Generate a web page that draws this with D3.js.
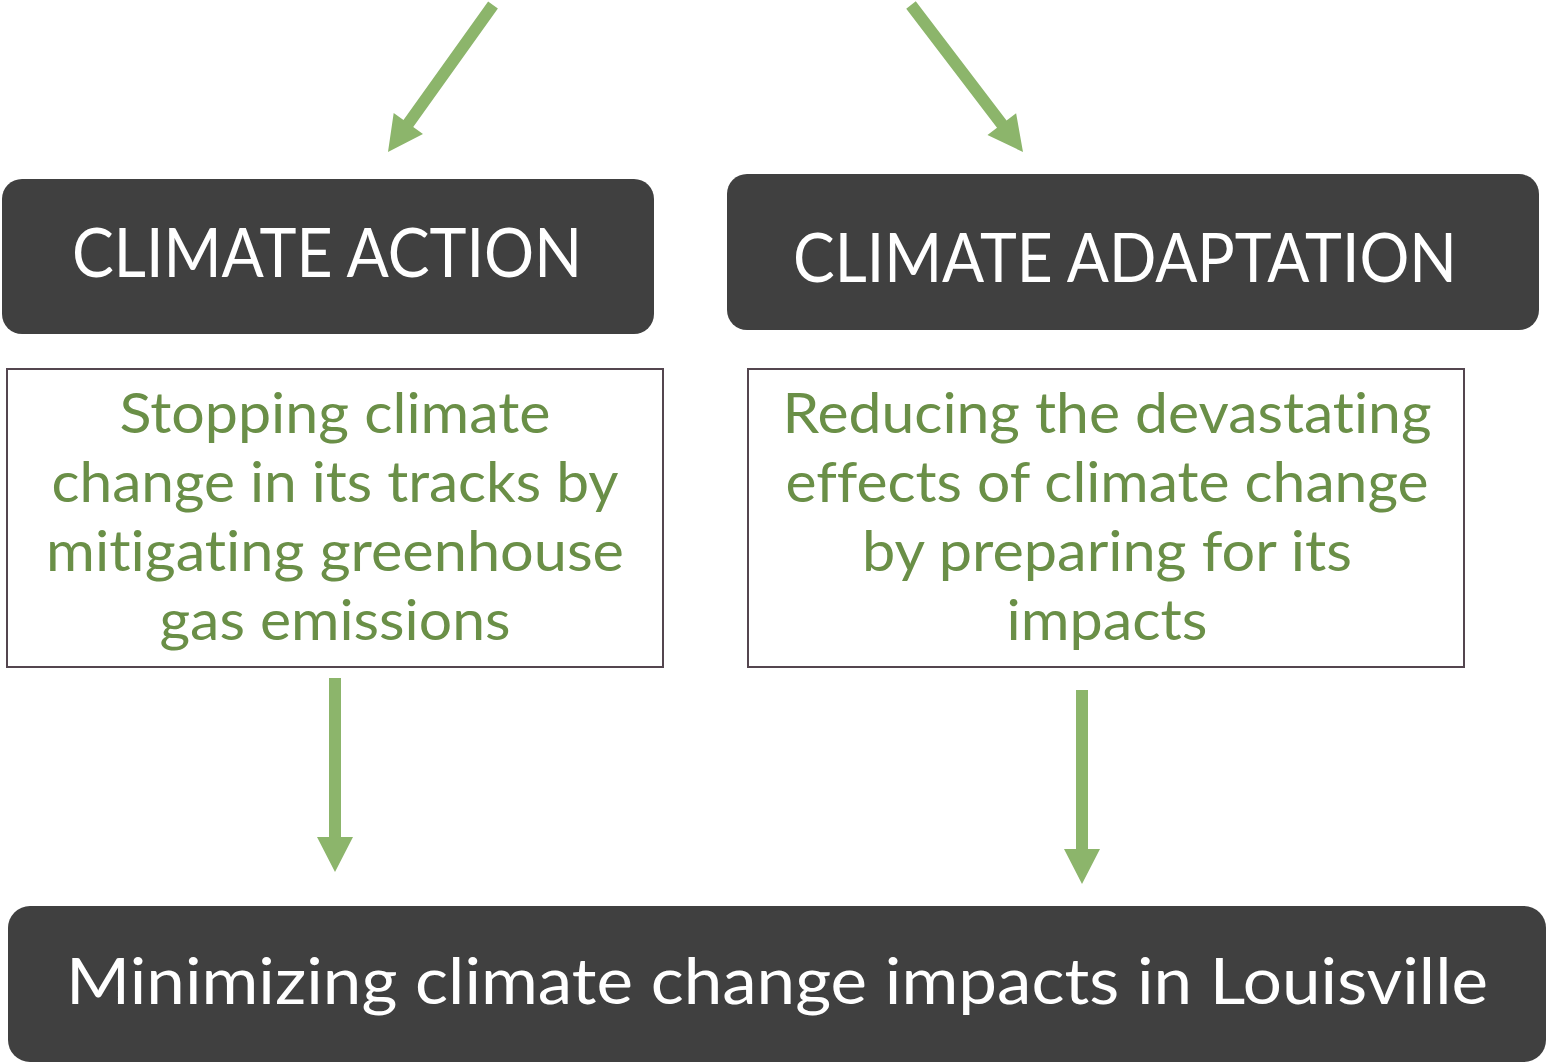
<!DOCTYPE html>
<html>
<head>
<meta charset="utf-8">
<script src="https://cdn.jsdelivr.net/npm/d3@7"></script>
<style>
  html, body { margin: 0; padding: 0; background: #fff; }
  svg { display: block; }
  text { font-variant-ligatures: none; font-feature-settings: "liga" 0, "clig" 0; }
</style>
</head>
<body>
<script>
// ---- content ----
const headings = ["CLIMATE ACTION", "CLIMATE ADAPTATION"];
const descLeft = ["Stopping climate", "change in its tracks by", "mitigating greenhouse", "gas emissions"];
const descRight = ["Reducing the devastating", "effects of climate change", "by preparing for its", "impacts"];
const outcome = ["Minimizing climate change impacts in Louisville"];

// ---- layout (not data) ----
const W = 1547, H = 1064;
const darkFill = "#404040", arrowFill = "#8cb56b", greenText = "#6a8f47", boxStroke = "#54464f";
const font = "Lato, 'Open Sans', 'DejaVu Sans', sans-serif";

const svg = d3.select("body").append("svg").attr("width", W).attr("height", H);

// arrows
const arrowDefs = [
  {x1: 493, y1: 5, x2: 388, y2: 152},
  {x1: 911, y1: 5, x2: 1023, y2: 152},
  {x1: 335, y1: 678, x2: 335, y2: 872},
  {x1: 1082, y1: 690, x2: 1082, y2: 884}
];
function arrowPath(a) {
  const sw = 12, hw = 36, hl = 35;
  const dx = a.x2 - a.x1, dy = a.y2 - a.y1, L = Math.hypot(dx, dy);
  const ux = dx / L, uy = dy / L, px = -uy, py = ux;
  const bx = a.x2 - ux * hl, by = a.y2 - uy * hl;
  const pts = [
    [a.x1 + px * sw / 2, a.y1 + py * sw / 2],
    [bx + px * sw / 2, by + py * sw / 2],
    [bx + px * hw / 2, by + py * hw / 2],
    [a.x2, a.y2],
    [bx - px * hw / 2, by - py * hw / 2],
    [bx - px * sw / 2, by - py * sw / 2],
    [a.x1 - px * sw / 2, a.y1 - py * sw / 2]
  ];
  return d3.line()(pts) + "Z";
}
svg.append("g").selectAll("path").data(arrowDefs).join("path")
  .attr("d", arrowPath).attr("fill", arrowFill);

// dark heading boxes
const headBoxes = [
  {x: 2, y: 179, w: 652, h: 155, tx: 327, ty: 277, tw: 510, fs: 68},
  {x: 727, y: 174, w: 812, h: 156, tx: 1125, ty: 282, tw: 664, fs: 68}
];
const hg = svg.append("g");
hg.selectAll("rect").data(headBoxes).join("rect")
  .attr("x", d => d.x).attr("y", d => d.y).attr("width", d => d.w).attr("height", d => d.h)
  .attr("rx", 20).attr("fill", darkFill);
hg.selectAll("text").data(headBoxes).join("text")
  .attr("x", d => d.tx).attr("y", d => d.ty)
  .attr("text-anchor", "middle").attr("fill", "#fff")
  .attr("font-family", font).attr("font-size", d => d.fs)
  .attr("textLength", d => d.tw).attr("lengthAdjust", "spacingAndGlyphs")
  .text((d, i) => headings[i]);

// description boxes
const descBoxes = [
  {x: 7, y: 369, w: 656, h: 298, lines: descLeft, cx: 335,
   widths: [431, 567, 578, 351]},
  {x: 748, y: 369, w: 716, h: 298, lines: descRight, cx: 1107,
   widths: [649, 643, 490, 201]}
];
const baselines = [433, 502, 571, 640];
const dg = svg.append("g");
dg.selectAll("rect").data(descBoxes).join("rect")
  .attr("x", d => d.x).attr("y", d => d.y).attr("width", d => d.w).attr("height", d => d.h)
  .attr("fill", "#fff").attr("stroke", boxStroke).attr("stroke-width", 2);
descBoxes.forEach(b => {
  dg.append("g").selectAll("text").data(b.lines).join("text")
    .attr("x", b.cx).attr("y", (d, i) => baselines[i])
    .attr("text-anchor", "middle").attr("fill", greenText)
    .attr("font-family", font).attr("font-size", 57)
    .attr("textLength", (d, i) => b.widths[i]).attr("lengthAdjust", "spacingAndGlyphs")
    .text(d => d);
});

// outcome box
const og = svg.append("g");
og.append("rect").attr("x", 8).attr("y", 906).attr("width", 1538).attr("height", 156)
  .attr("rx", 22).attr("fill", darkFill);
og.selectAll("text").data(outcome).join("text")
  .attr("x", 777).attr("y", 1004)
  .attr("text-anchor", "middle").attr("fill", "#fff")
  .attr("font-family", font).attr("font-size", 64)
  .attr("textLength", 1422).attr("lengthAdjust", "spacingAndGlyphs")
  .text(d => d);
</script>
</body>
</html>
